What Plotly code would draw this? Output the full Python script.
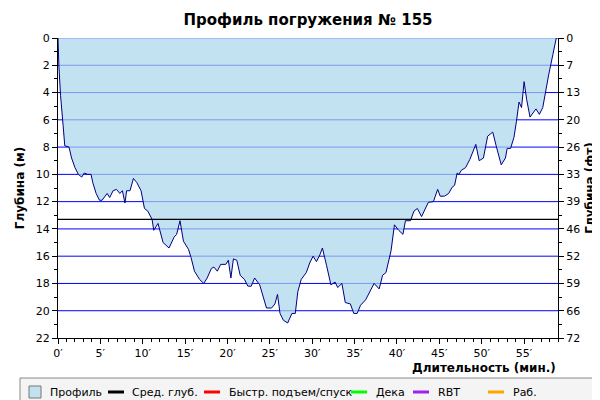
import plotly.graph_objects as go

times = [0,0.1,0.3,0.5,0.6,0.8,1.3,1.6,2.0,2.4,2.8,3.1,3.5,3.9,4.1,4.5,4.9,5.2,5.8,6.1,6.5,6.9,7.3,7.6,7.9,8.1,8.5,8.9,9.3,9.8,10.2,10.6,11.1,11.3,11.8,12.4,13.1,13.7,14.0,14.4,14.8,15.4,15.7,16.1,16.7,17.2,17.6,18.1,18.4,18.8,19.2,19.8,20.1,20.4,20.7,21.1,21.5,22.0,22.4,22.8,23.2,23.8,24.6,25.2,25.6,25.9,26.2,26.6,27.1,27.6,28.0,28.3,28.7,29.3,29.7,30.1,30.5,30.9,31.2,31.7,32.2,32.7,33.0,33.5,33.9,34.5,34.9,35.3,35.7,36.3,36.9,37.3,37.9,38.3,38.7,39.3,39.7,40.2,40.7,41.0,41.6,42.0,42.4,42.9,43.7,44.3,44.8,45.1,45.6,46.1,46.5,46.8,47.1,47.3,47.6,48.1,48.6,48.9,49.3,49.7,50.2,50.7,51.3,51.7,52.3,52.8,53.0,53.4,53.8,54.1,54.4,54.7,55.0,55.3,55.7,56.4,56.8,57.2,57.5,57.9,58.4,58.7,58.8]
depths = [0,2.0,4.2,5.4,6.4,7.9,8.0,8.8,9.5,10.0,10.2,9.9,10.0,10.0,10.6,11.4,11.9,11.9,11.4,11.7,11.2,11.1,11.4,11.2,12.1,11.2,11.2,10.3,10.6,11.2,12.5,12.7,13.3,14.1,13.6,15.0,15.4,14.6,14.4,13.4,14.9,15.5,16.1,17.1,17.7,18.0,17.6,16.9,16.8,17.1,16.6,16.6,16.3,17.6,16.2,16.3,17.4,17.7,18.2,18.2,17.6,18.1,19.8,19.8,19.5,18.8,20.2,20.7,20.9,20.2,20.2,18.6,17.7,17.2,16.5,16.0,16.4,15.9,15.4,16.7,18.1,17.9,18.3,18.0,19.4,19.5,20.2,20.2,19.6,19.2,18.5,18.0,18.4,17.4,17.2,15.6,13.7,14.1,14.4,13.4,13.4,12.7,12.5,13.1,12.05,12.0,11.1,11.6,11.6,11.4,10.95,10.8,9.9,10.0,9.7,9.5,8.9,8.4,7.8,9.0,8.8,7.2,6.9,7.9,9.3,8.8,8.1,8.1,7.3,6.1,4.7,5.1,3.2,4.5,5.8,5.2,5.6,5.1,4.0,2.7,1.2,0.1,0]
avg_depth = 13.3
x_max = 59
depth_ticks = [0,2,4,6,8,10,12,14,16,18,20,22]
ft_labels = ["0","7","13","20","26","33","39","46","52","59","66","72"]
time_ticks = [0,5,10,15,20,25,30,35,40,45,50,55]
time_labels = [f"{t}′" for t in time_ticks]
legend_names = ["Профиль","Сред. глуб.","Быстр. подъем/спуск","Дека","RBT","Раб."]
legend_colors = ["#c2e2f0","black","red","#00ff00","#a020f0","orange"]

L, T, W, H = 50, 30, 500, 300
def px(xp): return (xp - L) / W
def py(yp): return (T + H - yp) / H

fig = go.Figure()
fig.add_trace(go.Scatter(x=times, y=depths, mode="lines", fill="tozeroy",
    fillcolor="rgba(171,213,236,0.72)", line=dict(color="#000080", width=1), showlegend=False))
fig.add_trace(go.Scatter(x=[0, x_max], y=[avg_depth, avg_depth], mode="lines",
    line=dict(color="black", width=1.2), showlegend=False))
fig.add_trace(go.Scatter(x=[0], y=[0], yaxis="y2", mode="markers", marker=dict(opacity=0),
    showlegend=False, hoverinfo="skip"))

shapes = []
for d in depth_ticks[1:-1]:
    shapes.append(dict(type="line", xref="paper", yref="y", x0=0, x1=1, y0=d, y1=d,
                       line=dict(color="#0000ff", width=1), layer="below"))
shapes.append(dict(type="line", xref="paper", yref="y", x0=0, x1=1, y0=0, y1=0,
                   line=dict(color="#0000ff", width=1), layer="below"))
# legend box
shapes.append(dict(type="rect", xref="paper", yref="paper", x0=px(12), x1=px(590), y0=py(398), y1=py(370),
                   fillcolor="#f4f4f4", line=dict(color="#888", width=1)))
shapes.append(dict(type="rect", xref="paper", yref="paper", x0=px(21), x1=px(33), y0=py(390), y1=py(378),
                   fillcolor=legend_colors[0], line=dict(color="#777", width=1)))
annotations = [dict(text=legend_names[0], x=px(40), y=py(384), xref="paper", yref="paper",
                    xanchor="left", yanchor="middle", showarrow=False, font=dict(size=11))]
line_pos = [(100, 122), (196, 219), (343, 366), (405, 428), (480, 503)]
for (lx, tx), n, c in zip(line_pos, legend_names[1:], legend_colors[1:]):
    shapes.append(dict(type="line", xref="paper", yref="paper", x0=px(lx), x1=px(lx + 16),
                       y0=py(384), y1=py(384), line=dict(color=c, width=3)))
    annotations.append(dict(text=n, x=px(tx), y=py(384), xref="paper", yref="paper",
                            xanchor="left", yanchor="middle", showarrow=False, font=dict(size=11)))
annotations.append(dict(text="<b>Длительность (мин.)</b>", x=1, xref="paper", xanchor="right",
                        y=py(351), yref="paper", yanchor="top", showarrow=False, font=dict(size=12)))

font = "DejaVu Sans, Verdana, sans-serif"
fig.update_layout(
    width=600, height=400, paper_bgcolor="white", plot_bgcolor="white",
    font=dict(family=font, size=11, color="black"),
    margin=dict(l=L, r=600 - L - W, t=T, b=400 - T - H, autoexpand=False),
    showlegend=False,
    title=dict(text="<b>Профиль погружения № 155</b>", x=0.5, xanchor="center", y=0.985, yanchor="top",
               font=dict(size=15)),
    xaxis=dict(range=[0, x_max], tickvals=time_ticks, ticktext=time_labels, ticks="outside", ticklen=5,
               minor=dict(dtick=1, ticks="outside", ticklen=3, tickcolor="black", showgrid=False),
               showgrid=False, zeroline=False, showline=True, linecolor="black", tickcolor="black"),
    yaxis=dict(range=[22, 0], tickvals=depth_ticks, ticks="outside", ticklen=5, tickcolor="black",
               minor=dict(dtick=1, ticks="outside", ticklen=3, tickcolor="black", showgrid=False),
               showgrid=False, zeroline=False, showline=True, linecolor="black",
               title=dict(text="<b>Глубина (м)</b>", font=dict(size=12), standoff=8)),
    yaxis2=dict(range=[22, 0], overlaying="y", side="right", tickvals=depth_ticks, ticktext=ft_labels,
               ticks="outside", ticklen=5, tickcolor="black",
               minor=dict(dtick=1, ticks="outside", ticklen=3, tickcolor="black"),
               showgrid=False, zeroline=False, showline=True, linecolor="black",
               title=dict(text="<b>Глубина (фт)</b>", font=dict(size=12), standoff=6)),
    shapes=shapes, annotations=annotations,
)
fig.write_html("out.html")
